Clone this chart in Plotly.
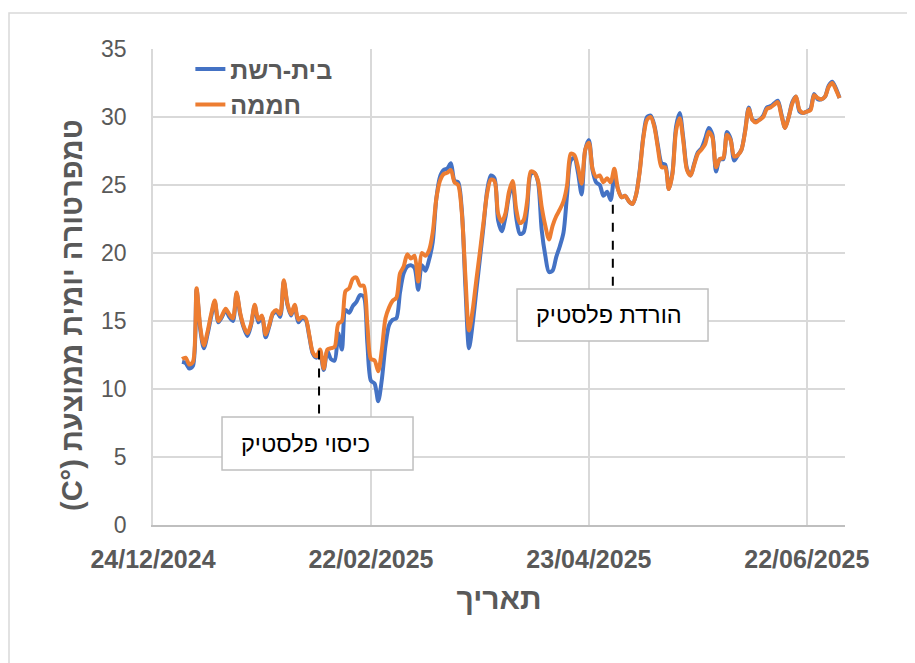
import pandas as pd
import plotly.graph_objects as go

# ---- data (daily mean temperature, 1/1/2025 - 1/7/2025) ----
dates = pd.date_range("2025-01-01", periods=182, freq="D")

net_house = [  # בית-רשת
    12.0, 11.9, 11.5, 11.7, 17.3, 14.4, 13.0, 14.0, 15.3, 16.4,
    14.9, 15.3, 15.8, 15.3, 15.0, 17.0, 15.5, 14.5, 13.9, 14.7,
    16.1, 14.9, 15.3, 13.8, 14.6, 15.5, 15.7, 15.3, 17.9, 16.2,
    15.4, 16.1, 14.9, 15.2, 15.1, 13.9, 12.6, 12.3, 12.6, 11.4,
    12.8, 12.2, 12.1, 14.1, 12.9, 15.8, 15.6, 16.1, 16.4, 16.9,
    16.8, 13.4, 10.6, 10.4, 9.1, 10.7, 13.2, 14.7, 15.1, 15.2,
    17.1, 18.5, 19.0, 19.1, 18.9, 17.3, 19.1, 18.7, 19.5, 20.8,
    24.0, 25.6, 26.1, 26.2, 26.6, 25.3, 25.2, 23.2, 17.5, 13.0,
    14.8, 17.2, 19.6, 22.0, 24.6, 25.7, 25.5, 22.4, 21.6, 22.6,
    24.2, 25.0, 22.6, 21.4, 21.5, 23.2, 25.8, 25.9, 25.2, 21.7,
    19.8, 18.6, 18.7, 19.7, 20.5, 21.5, 24.3, 26.8, 27.0, 25.9,
    24.3, 27.6, 28.3, 26.1, 25.2, 25.0, 24.2, 24.5, 23.9, 25.6,
    24.7, 24.1, 24.2, 23.8, 23.6, 24.3, 26.1, 28.6, 30.0, 30.1,
    29.4, 27.9, 26.6, 26.5, 24.7, 25.9, 29.3, 30.3, 28.4, 26.2,
    25.7, 26.6, 27.4, 27.7, 28.4, 29.2, 28.7, 26.0, 26.9, 26.9,
    28.9, 28.4, 26.8, 27.2, 27.6, 29.0, 30.7, 29.8, 29.7, 29.8,
    30.1, 30.7, 30.8, 31.0, 31.2, 30.2, 29.2, 30.0, 31.1, 31.5,
    30.4, 30.3, 30.4, 30.6, 31.7, 31.3, 31.3, 31.5, 32.3, 32.6,
    32.1, 31.4,
]

greenhouse = [  # חממה
    12.2, 12.3, 11.8, 12.0, 17.4, 14.6, 13.2, 14.2, 15.5, 16.5,
    15.0, 15.4, 15.9, 15.5, 15.2, 17.1, 15.6, 14.6, 14.1, 14.8,
    16.2, 15.1, 15.4, 14.0, 14.7, 15.6, 15.8, 15.5, 18.0, 16.3,
    15.5, 16.2, 15.1, 15.3, 15.2, 14.0, 12.7, 12.4, 12.9, 11.5,
    12.9, 13.0, 13.1, 14.8, 15.0, 17.2, 17.4, 18.1, 18.2, 17.6,
    17.6, 14.8, 12.2, 12.1, 11.3, 12.9, 15.2, 16.0, 16.5, 16.7,
    18.5, 19.0, 19.9, 19.6, 19.8, 17.9, 20.0, 19.8, 20.2, 21.5,
    24.0, 25.3, 25.8, 25.9, 26.1, 25.2, 25.0, 23.0, 18.3, 14.3,
    15.8, 18.0, 20.1, 22.3, 24.4, 25.4, 25.3, 22.9, 22.3, 22.9,
    24.5, 25.3, 23.2, 22.2, 22.4, 23.8, 26.0, 25.9, 25.3, 23.4,
    22.0, 21.0, 22.0, 22.7, 23.2, 23.8, 25.0, 27.3, 27.2, 26.3,
    25.1, 27.6, 28.1, 26.2, 25.6, 25.7, 25.2, 25.5, 25.2, 26.2,
    24.7, 24.1, 24.2, 23.8, 23.6, 24.3, 26.0, 28.5, 29.8, 30.0,
    29.3, 27.7, 26.3, 26.3, 24.7, 25.8, 29.0, 29.9, 28.2, 26.1,
    25.7, 26.5, 27.3, 27.6, 28.0, 28.9, 28.5, 26.3, 26.9, 27.0,
    28.7, 28.3, 27.1, 27.2, 27.6, 28.9, 30.6, 29.8, 29.6, 29.8,
    30.0, 30.6, 30.7, 30.9, 31.1, 30.1, 29.2, 30.0, 31.0, 31.5,
    30.5, 30.3, 30.4, 30.5, 31.6, 31.4, 31.3, 31.5, 32.2, 32.5,
    32.0, 31.4,
]

series_names = ["בית-רשת", "חממה"]
tick_dates = ["2024-12-24", "2025-02-22", "2025-04-23", "2025-06-22"]
tick_labels = ["24/12/2024", "22/02/2025", "23/04/2025", "22/06/2025"]
y_title = "(C°) טמפרטורה יומית ממוצעת"
x_title = "תאריך"

# events (plastic covering / removal)
event_dates = ["2025-02-07 17:00", "2025-04-29 14:00"]
event_line_top = [13.5, 24.1]
event_line_bottom = [8.2, 17.6]
event_labels = ["כיסוי פלסטיק", "הורדת פלסטיק"]
# label boxes (data coordinates)
box_x0 = ["2025-01-12 00:00", "2025-04-03 05:00"]
box_x1 = ["2025-03-05 14:00", "2025-05-25 19:00"]
box_y0 = [4.04, 13.53]
box_y1 = [7.94, 17.35]

BLUE = "#4472C4"
ORANGE = "#ED7D31"
GRAY_TXT = "#595959"
GRID = "#d9d9d9"
FONT = "Liberation Sans"

W, H = 907, 655
ML, MR, MT, MB = 145, 70, 41, 138
PW, PH = W - ML - MR, H - MT - MB

fig = go.Figure()
fig.add_trace(go.Scatter(x=dates, y=net_house, name=series_names[0], mode="lines",
                         line=dict(color=BLUE, width=4, shape="spline", smoothing=0.8)))
fig.add_trace(go.Scatter(x=dates, y=greenhouse, name=series_names[1], mode="lines",
                         line=dict(color=ORANGE, width=4, shape="spline", smoothing=0.8)))

for xd, yt, yb in zip(event_dates, event_line_top, event_line_bottom):
    fig.add_shape(type="line", x0=xd, x1=xd, y0=yb, y1=yt, xref="x", yref="y",
                  line=dict(color="#000000", width=2, dash="dash"))

for x0, x1, y0, y1, lab in zip(box_x0, box_x1, box_y0, box_y1, event_labels):
    fig.add_shape(type="rect", x0=x0, x1=x1, y0=y0, y1=y1, xref="x", yref="y",
                  line=dict(color="#bfbfbf", width=1.5), fillcolor="white", layer="above")
    fig.add_annotation(x=x0, y=(y0 + y1) / 2, xref="x", yref="y", text=lab,
                       showarrow=False, xanchor="left", yanchor="middle", xshift=17,
                       font=dict(family=FONT, size=23.5, color="#000000"))

# y-axis title (placed as rotated text, as in the original)
fig.add_annotation(x=(64 - ML) / PW, y=(MT + PH - 307) / PH, xref="paper", yref="paper",
                   text=y_title, textangle=-90, showarrow=False,
                   xanchor="center", yanchor="middle",
                   font=dict(family=FONT, size=29, color=GRAY_TXT, weight="bold"))

# outer chart frame
fig.add_shape(type="rect", xref="paper", yref="paper",
              x0=(1 - ML) / PW, x1=(W + 20 - ML) / PW,
              y0=(MT + PH - (H + 20)) / PH, y1=(MT + PH - 5) / PH,
              line=dict(color="#d9d9d9", width=1.5), fillcolor="rgba(0,0,0,0)", layer="below")

fig.update_layout(
    width=W, height=H,
    margin=dict(l=ML, r=MR, t=MT, b=MB, autoexpand=False),
    paper_bgcolor="white", plot_bgcolor="white",
    font=dict(family=FONT, color=GRAY_TXT),
    showlegend=True,
    legend=dict(x=0.054, y=1.006, xanchor="left", yanchor="top",
                bgcolor="rgba(255,255,255,0)", tracegroupgap=0,
                font=dict(family=FONT, size=25, color=GRAY_TXT, weight="bold")),
    xaxis=dict(type="date", range=["2024-12-24", "2025-07-02 12:00"],
               tickvals=tick_dates, ticktext=tick_labels, automargin=False,
               tickfont=dict(family=FONT, size=25, color=GRAY_TXT, weight="bold"),
               showgrid=True, gridcolor=GRID, gridwidth=1.5,
               showline=True, linecolor="#bfbfbf", linewidth=1.5,
               ticks="outside", ticklen=11, tickcolor="rgba(0,0,0,0)",
               zeroline=False,
               title=dict(text=x_title, standoff=16,
                          font=dict(family=FONT, size=30, color=GRAY_TXT, weight="bold"))),
    yaxis=dict(range=[0, 35], dtick=5, tick0=0, automargin=False,
               tickfont=dict(family=FONT, size=23, color=GRAY_TXT),
               showgrid=True, gridcolor=GRID, gridwidth=1.5,
               showline=True, linecolor=GRID, linewidth=1.5,
               ticks="outside", ticklen=20, tickcolor="rgba(0,0,0,0)",
               zeroline=False),
)

fig.write_html("out.html")
